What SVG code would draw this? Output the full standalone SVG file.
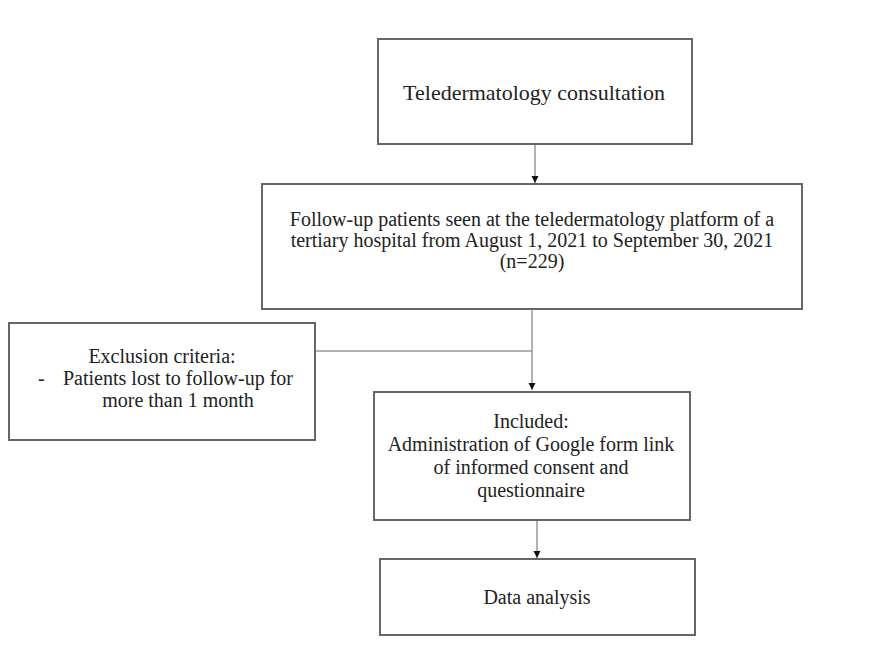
<svg xmlns="http://www.w3.org/2000/svg" width="870" height="661" viewBox="0 0 870 661">
<style>
.box{fill:#fff;stroke:#666;stroke-width:2}
.t{font-family:"Liberation Serif","Times New Roman",serif;font-size:20px;fill:#222;text-anchor:middle}
.c{fill:none;stroke:#999;stroke-width:1.5}
</style>
<defs>
<marker id="ah" markerWidth="8" markerHeight="8" refX="7" refY="4" orient="auto" markerUnits="userSpaceOnUse">
<path d="M0,0.5 L7,4 L0,7.5 Z" fill="#111"/>
</marker>
</defs>
<rect width="870" height="661" fill="#fff"/>
<g id="connectors">
<line class="c" x1="535" y1="145" x2="535" y2="183" marker-end="url(#ah)"/>
<line class="c" x1="532" y1="310" x2="532" y2="390" marker-end="url(#ah)"/>
<line class="c" x1="316" y1="351" x2="532" y2="351"/>
<line class="c" x1="537" y1="521" x2="537" y2="558" marker-end="url(#ah)"/>
</g>
<g id="consultation">
<rect class="box" x="378" y="39" width="314" height="105"/>
<text class="t" x="534" y="100" style="font-size:22px">Teledermatology consultation</text>
</g>
<g id="followup">
<rect class="box" x="262" y="184" width="540" height="125"/>
<text class="t" x="532" y="226">Follow-up patients seen at the teledermatology platform of a</text>
<text class="t" x="532" y="247">tertiary hospital from August 1, 2021 to September 30, 2021</text>
<text class="t" x="532" y="268">(n=229)</text>
</g>
<g id="exclusion">
<rect class="box" x="9" y="323" width="306" height="117"/>
<text class="t" x="162" y="363">Exclusion criteria:</text>
<text class="t" x="38" y="385" style="text-anchor:start">-</text>
<text class="t" x="178" y="385">Patients lost to follow-up for</text>
<text class="t" x="178" y="407">more than 1 month</text>
</g>
<g id="included">
<rect class="box" x="374" y="392" width="316" height="128"/>
<text class="t" x="531" y="428">Included:</text>
<text class="t" x="531" y="451">Administration of Google form link</text>
<text class="t" x="531" y="474">of informed consent and</text>
<text class="t" x="531" y="497">questionnaire</text>
</g>
<g id="analysis">
<rect class="box" x="380" y="559" width="315" height="76"/>
<text class="t" x="537" y="604">Data analysis</text>
</g>
</svg>
